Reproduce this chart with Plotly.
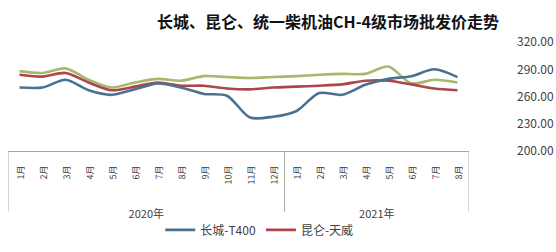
import plotly.graph_objects as go

years = ["2020年"] * 12 + ["2021年"] * 8
months = [f"{m}月" for m in range(1, 13)] + [f"{m}月" for m in range(1, 9)]

changcheng = [270, 270, 278.5, 267, 262, 268, 274.5, 270, 263, 261, 237, 238,
              244, 264, 262, 273, 279.5, 282.5, 290, 281.5]
kunlun = [284, 282, 286, 275.5, 267, 271, 275.5, 272, 272, 269, 268, 270,
          271, 272, 273.5, 277.5, 277.5, 273.5, 269, 267]
tongyi = [288, 286, 291, 278.5, 270, 275.5, 279.5, 277.5, 282.5, 281.5, 280.5, 281.5,
          282.5, 284, 285, 285, 293, 274.5, 278.5, 275.5]

y_ticks = [200, 230, 260, 290, 320]

n = len(months)
idx = list(range(n))
year_names = list(dict.fromkeys(years))
year_starts = [years.index(y) for y in year_names]
year_counts = [years.count(y) for y in year_names]
year_centers = [s + (c - 1) / 2 for s, c in zip(year_starts, year_counts)]
box_lines = [-0.5] + [s + c - 0.5 for s, c in zip(year_starts, year_counts)]

# layout geometry (pixels)
W, H = 556, 252
ml, mr, mt, mb = 8, 87, 42, 20
area_h = H - mt - mb
axis_px = 158
y_dom0 = (H - mb - axis_px) / area_h
box_bottom = (H - mb - 222) / area_h
year_axis_pos = (H - mb - 216) / area_h

fig = go.Figure()
fig.add_trace(go.Scatter(x=idx, y=tongyi, name="统一", mode="lines",
                         line=dict(color="#a9b96c", width=2.6, shape="spline", smoothing=0.8),
                         showlegend=False))
fig.add_trace(go.Scatter(x=idx, y=kunlun, name="昆仑-天威", mode="lines",
                         line=dict(color="#a9474b", width=2.6, shape="spline", smoothing=0.8)))
fig.add_trace(go.Scatter(x=idx, y=changcheng, name="长城-T400", mode="lines",
                         line=dict(color="#4b7190", width=2.6, shape="spline", smoothing=0.8)))
# carrier for the year-group axis
fig.add_trace(go.Scatter(x=year_centers, y=[None] * len(year_centers), xaxis="x2",
                         mode="lines", showlegend=False, hoverinfo="skip"))

shapes = [dict(type="line", xref="x", yref="paper", x0=xv, x1=xv, y0=y_dom0, y1=box_bottom,
               line=dict(color="#a6a6a6", width=1)) for xv in box_lines]

fig.update_layout(
    width=W, height=H,
    margin=dict(l=ml, r=mr, t=mt, b=mb),
    paper_bgcolor="white", plot_bgcolor="white",
    font=dict(family="Noto Sans CJK SC", color="#404040", size=12),
    title=dict(text="<b>长城、昆仑、统一柴机油CH-4级市场批发价走势</b>",
               x=0.59, xanchor="center", y=1 - 22 / H, yanchor="middle",
               font=dict(size=16, color="#111111")),
    legend=dict(orientation="h", x=0.545, xanchor="center",
                y=(H - mb - 226) / area_h, yanchor="top",
                traceorder="reversed", font=dict(size=12, color="#404040"),
                itemwidth=30, bgcolor="rgba(0,0,0,0)"),
    showlegend=True,
    shapes=shapes,
    xaxis=dict(range=[-0.5, n - 0.5], tickvals=idx, ticktext=months,
               showline=True, linecolor="#a6a6a6", linewidth=1,
               showgrid=False, zeroline=False,
               ticks="outside", ticklen=7, tickcolor="rgba(0,0,0,0)",
               tickangle=-89.9, automargin=False,
               tickfont=dict(size=9, color="#404040")),
    xaxis2=dict(range=[-0.5, n - 0.5], overlaying="x", anchor="free",
                position=year_axis_pos, side="bottom",
                tickvals=year_centers, ticktext=year_names,
                showline=False, showgrid=False, zeroline=False, ticks="",
                automargin=False, tickfont=dict(size=11, color="#404040")),
    yaxis=dict(domain=[y_dom0, 1], range=[200, 320], side="right",
               tickvals=y_ticks, tickformat=".2f",
               showgrid=False, zeroline=False, showline=False, ticks="",
               ticklabelstandoff=47, automargin=False,
               tickfont=dict(size=12, color="#404040")),
)

fig.write_html("out.html")
